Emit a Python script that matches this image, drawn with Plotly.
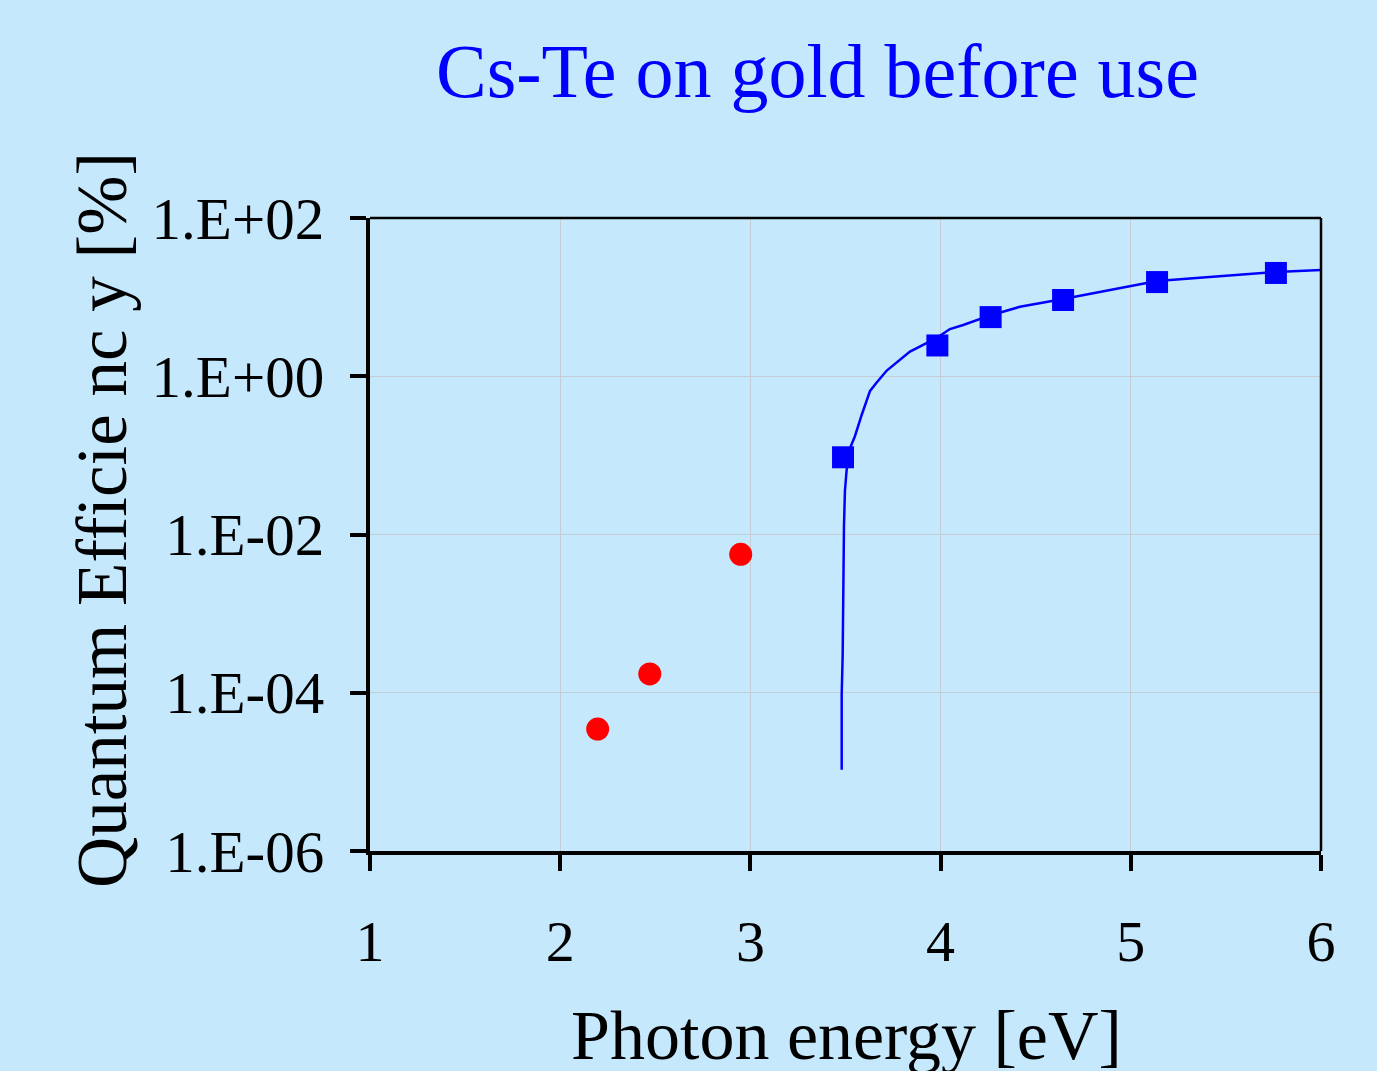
import plotly.graph_objects as go

# ---- text ----
title_text = "Cs-Te on gold before use"
x_title = "Photon energy [eV]"
y_title = "Quantum Efficie nc y [%]"

# ---- data ----
fit_energy = [3.480, 3.480, 3.485, 3.488, 3.492, 3.497, 3.506, 3.524, 3.550, 3.585,
              3.629, 3.664, 3.717, 3.839, 3.980, 4.049, 4.119, 4.260, 4.417, 4.644,
              5.138, 5.763, 6.000]
fit_qe = [1.06e-5, 9.6e-5, 2.91e-4, 7.8e-3, 0.0130, 0.0355, 0.0653, 0.124, 0.176, 0.324,
          0.652, 0.832, 1.18, 2.05, 3.06, 3.95, 4.45, 5.87, 7.55, 9.46,
          16.0, 20.8, 22.0]

square_energy = [3.487, 3.983, 4.263, 4.644, 5.138, 5.763]
square_qe = [0.0946, 2.45, 5.59, 9.2, 15.5, 20.2]

circle_energy = [2.197, 2.471, 2.949]
circle_qe = [3.48e-5, 1.73e-4, 5.62e-3]

y_tick_vals = [1e-6, 1e-4, 1e-2, 1e0, 1e2]
y_tick_text = ["1.E-06", "1.E-04", "1.E-02", "1.E+00", "1.E+02"]
x_tick_vals = [1, 2, 3, 4, 5, 6]

BG = "#C5E8FC"
FONT = "Liberation Serif"
GRID = "#C4CDD4"

fig = go.Figure()
fig.add_trace(go.Scatter(x=fit_energy, y=fit_qe, mode="lines",
                         line=dict(color="#0000FF", width=2.5), showlegend=False))
fig.add_trace(go.Scatter(x=square_energy, y=square_qe, mode="markers",
                         marker=dict(symbol="square", size=22, color="#0000FF"),
                         showlegend=False))
fig.add_trace(go.Scatter(x=circle_energy, y=circle_qe, mode="markers",
                         marker=dict(symbol="circle", size=23, color="#FF0000"),
                         showlegend=False))

fig.update_layout(
    width=1377, height=1071,
    margin=dict(l=370, r=56, t=218, b=220),
    paper_bgcolor=BG, plot_bgcolor=BG,
    font=dict(family=FONT, color="black"),
    showlegend=False,
)

fig.update_xaxes(
    range=[1, 6], tickvals=x_tick_vals, ticktext=[str(v) for v in x_tick_vals],
    showline=True, linecolor="black", linewidth=4,
    ticks="outside", ticklen=16, tickwidth=4, tickcolor="black",
    showgrid=True, gridcolor=GRID, gridwidth=1,
    tickfont=dict(family=FONT, size=58, color="black"),
    ticklabelstandoff=20, zeroline=False,
)
fig.update_yaxes(
    type="log", range=[-6, 2], tickvals=y_tick_vals, ticktext=y_tick_text,
    showline=True, linecolor="black", linewidth=4,
    ticks="outside", ticklen=16, tickwidth=4, tickcolor="black",
    showgrid=True, gridcolor=GRID, gridwidth=1,
    tickfont=dict(family=FONT, size=59, color="black"),
    ticklabelstandoff=14, zeroline=False,
)

# thin top and right frame lines
fig.add_shape(type="line", xref="paper", yref="paper", x0=0, x1=1, y0=1, y1=1,
              line=dict(color="black", width=2.5))
fig.add_shape(type="line", xref="paper", yref="paper", x0=1, x1=1, y0=0, y1=1,
              line=dict(color="black", width=2.5))

fig.add_annotation(text=title_text, xref="paper", yref="paper",
                   x=(817 - 370) / 951, y=(851 - 71) / 633,
                   xanchor="center", yanchor="middle", showarrow=False,
                   font=dict(family=FONT, size=76, color="#0000FF"))
fig.add_annotation(text=x_title, xref="paper", yref="paper",
                   x=(846 - 370) / 951, y=(851 - 1035) / 633,
                   xanchor="center", yanchor="middle", showarrow=False,
                   font=dict(family=FONT, size=70, color="black"))
fig.add_annotation(text=y_title, xref="paper", yref="paper",
                   x=(102 - 370) / 951, y=(851 - 520) / 633, textangle=-90,
                   xanchor="center", yanchor="middle", showarrow=False,
                   font=dict(family=FONT, size=71, color="black"))

fig.write_html("out.html")
